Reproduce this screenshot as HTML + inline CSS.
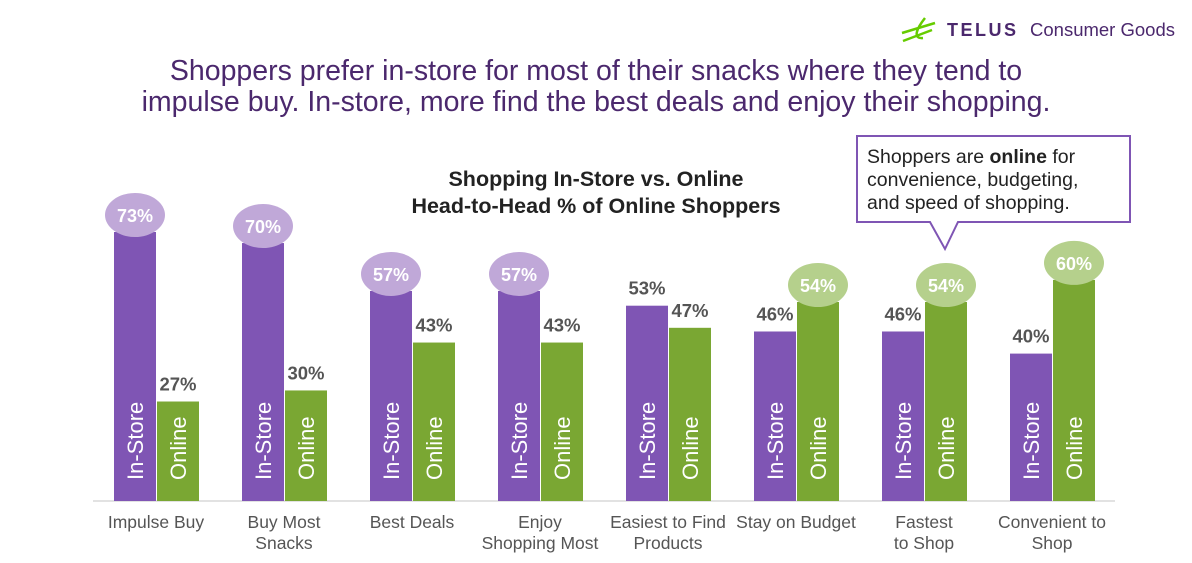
<!DOCTYPE html>
<html><head><meta charset="utf-8"><style>
body{margin:0;width:1192px;height:563px;background:#fff;overflow:hidden;font-family:"Liberation Sans",Arial,sans-serif;}
</style></head><body>
<svg width="1192" height="563" style="position:absolute;left:0;top:0">
<g>
<path d="M902 33 L935 23 M903 41 L932 30 M925 18 C917 28,912 39,923 38" stroke="#66cc00" stroke-width="2.5" fill="none"/>
<text x="947" y="36" font-size="18" font-weight="bold" fill="#4b286d" letter-spacing="2.5">TELUS</text>
<text x="1030" y="36" font-size="18.5" fill="#4b286d">Consumer Goods</text>
</g>
<text x="596" y="80" font-size="28.5" fill="#4b286d" text-anchor="middle">Shoppers prefer in-store for most of their snacks where they tend to</text>
<text x="596" y="111" font-size="28.5" fill="#4b286d" text-anchor="middle">impulse buy. In-store, more find the best deals and enjoy their shopping.</text>
<text x="596" y="186" font-size="21.5" font-weight="bold" fill="#222" text-anchor="middle">Shopping In-Store vs. Online</text>
<text x="596" y="213" font-size="21.5" font-weight="bold" fill="#222" text-anchor="middle">Head-to-Head % of Online Shoppers</text>
<g>
<path d="M857 136 H1130 V222 H958 L945 249 L930 222 H857 Z" fill="#fff" stroke="#7f55b4" stroke-width="2"/>
<text x="867" y="163" font-size="19.5" fill="#222">Shoppers are <tspan font-weight="bold">online</tspan> for</text>
<text x="867" y="186" font-size="19.5" fill="#222">convenience, budgeting,</text>
<text x="867" y="209" font-size="19.5" fill="#222">and speed of shopping.</text>
</g>
<line x1="93" y1="501" x2="1115" y2="501" stroke="#d9d9d9" stroke-width="1.5"/>
<g id="bars"></g>
</svg>
<script>
const categories=[["Impulse Buy"],["Buy Most","Snacks"],["Best Deals"],["Enjoy","Shopping Most"],["Easiest to Find","Products"],["Stay on Budget"],["Fastest","to Shop"],["Convenient to","Shop"]];
const inStore=[73,70,57,57,53,46,46,40];
const online=[27,30,43,43,47,54,54,60];
const highlight=["in","in","in","in","none","on","on","on"];
const NS="http://www.w3.org/2000/svg";
const g=document.getElementById("bars");
const base=501, k=3.685;
function y(v){return base-v*k;}
function x(i){return 114+128*i;}
function mk(t,a,txt){const e=document.createElementNS(NS,t);for(const n in a)e.setAttribute(n,a[n]);if(txt!=null)e.textContent=txt;g.appendChild(e);return e;}
categories.forEach((c,i)=>{
  const series=[[inStore[i],"#7f55b4","In-Store","in","#c0a8d8"],[online[i],"#7aa733","Online","on","#b5d08c"]];
  series.forEach((s,j)=>{
    const bx=x(i)+j*43, top=y(s[0]);
    const r=mk("rect",{x:bx,y:top,width:42,height:base-top,fill:s[1]});
    
    
    const lt=mk("text",{x:bx+29,y:480,"font-size":22,fill:"#fff",transform:`rotate(-90 ${bx+29} 480)`,"text-anchor":"start"},s[2]);
    
    
    let vt;
    if(highlight[i]===s[3]){
      const el=mk("ellipse",{cx:bx+21,cy:top-17,rx:30,ry:22,fill:s[4]});
      
      
      vt=mk("text",{x:bx+21,y:top-10,"font-size":18,"font-weight":"bold",fill:"#fff","text-anchor":"middle"},s[0]+"%");
    } else {
      vt=mk("text",{x:bx+21,y:top-11,"font-size":18.5,"font-weight":"bold",fill:"#555","text-anchor":"middle"},s[0]+"%");
    }
    
    
  });
  c.forEach((line,li)=>{
    const t=mk("text",{x:x(i)+42,y:528+li*21,"font-size":17.5,fill:"#555","text-anchor":"middle"},line);
    
    
  });
});
</script>
</body></html>
